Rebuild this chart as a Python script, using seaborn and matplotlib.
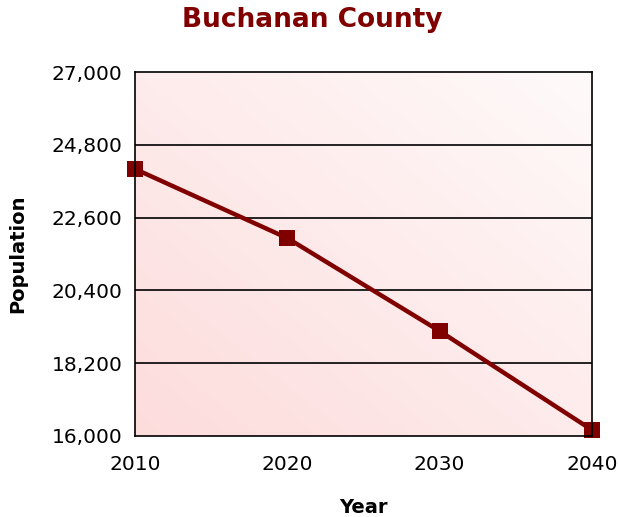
import numpy as np
import pandas as pd
import matplotlib
matplotlib.use('Agg')
import matplotlib.pyplot as plt
import seaborn as sns
from matplotlib.colors import LinearSegmentedColormap
from matplotlib.ticker import FuncFormatter

years = [2010, 2020, 2030, 2040]
population = [24070, 21980, 19170, 16180]
y_ticks = [16000, 18200, 20400, 22600, 24800, 27000]

df = pd.DataFrame({'Year': years, 'Population': population})

sns.set_style('white')
plt.rcParams['font.family'] = ['DejaVu Sans']

fig = plt.figure(figsize=(6.18, 5.17), dpi=100)
ax = fig.add_axes([0.2184, 0.1567, 0.7396, 0.704])

# pink gradient background, stronger bottom-left
gx, gy = np.meshgrid(np.linspace(0, 1, 200), np.linspace(0, 1, 200))
grad = (gx + gy) / 2
cmap = LinearSegmentedColormap.from_list('pk', ['#fddcdc', '#fffafa'])
ax.imshow(grad, extent=[0, 1, 0, 1], transform=ax.transAxes, origin='lower',
          cmap=cmap, aspect='auto', zorder=0)

for t in y_ticks[1:-1]:
    ax.axhline(t, color='black', lw=1.2, zorder=1)

sns.lineplot(data=df, x='Year', y='Population', ax=ax, color='#800000',
             lw=3.2, marker='s', markersize=11, markeredgewidth=0, zorder=3,
             clip_on=False)

ax.set_xlim(2010, 2040)
ax.set_ylim(16000, 27000)
ax.set_xticks(years)
ax.set_yticks(y_ticks)
ax.yaxis.set_major_formatter(FuncFormatter(lambda v, p: f'{int(v):,}'))
ax.tick_params(axis='both', labelsize=14.5, colors='black', length=6,
               width=1.2, direction='inout')
ax.tick_params(axis='y', pad=6)
ax.tick_params(axis='x', direction='out', length=5, pad=9)
for s in ax.spines.values():
    s.set_color('black')
    s.set_linewidth(1.2)
    s.set_visible(True)
    s.set_zorder(4)

ax.set_xlabel('Year', fontsize=14, fontweight='bold', color='black', labelpad=17)
ax.set_ylabel('Population', fontsize=14, fontweight='bold', color='black')
ax.yaxis.set_label_coords(-0.235, 0.5)
fig.text(0.505, 0.962, 'Buchanan County', ha='center', va='center',
         fontsize=19, fontweight='bold', color='#800000')

fig.savefig('out.png', dpi=100)
